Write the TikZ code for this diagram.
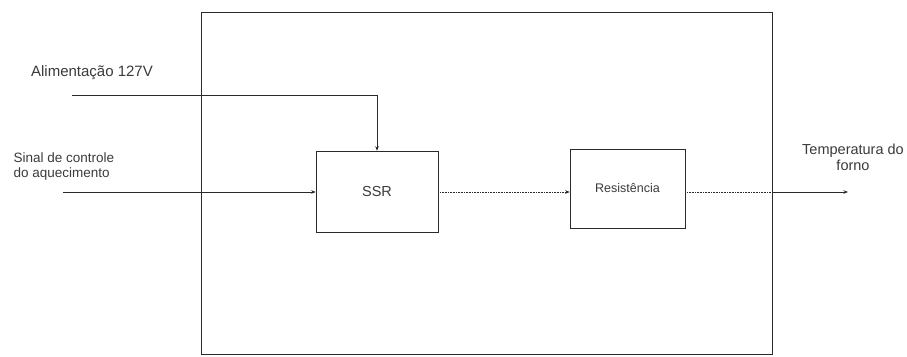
\documentclass[tikz,border=0pt]{standalone}
\usepackage{fontspec}
\setmainfont{Liberation Sans}
\usepackage{xcolor}
\usetikzlibrary{arrows.meta, positioning, calc}
\definecolor{inkgray}{HTML}{2A2A2A}
\definecolor{labelgray}{HTML}{3A3A3A}
\tikzset{
  arr/.style={-{Stealth[length=4.5pt, width=3.5pt]}, line width=0.6pt, inkgray},
  darr/.style={-{Stealth[length=4.5pt, width=3.5pt]}, line width=0.6pt, inkgray, densely dotted},
  blockbox/.style={rectangle, draw=inkgray, line width=0.6pt, align=center, text=labelgray},
  lbl/.style={font=\fontsize{13.5}{15}\selectfont, text=labelgray},
}
\begin{document}
\begin{tikzpicture}[x=1pt, y=-1pt]
  \useasboundingbox (0,0) rectangle (907,356);

  % Plant boundary
  \node[draw=inkgray, line width=0.6pt, minimum width=571pt, minimum height=342pt, inner sep=0pt] (plant) at (486.5,183) {};

  % Blocks
  \node[blockbox, minimum width=122pt, minimum height=81pt, font=\fontsize{14.5}{16}\selectfont] (ssr) at (377,191.5) {SSR};
  \node[blockbox, minimum width=115pt, minimum height=79pt, font=\fontsize{12.5}{15}\selectfont] (res) at (627.5,188.5) {Resistência};

  % Inputs
  \node[lbl, font=\fontsize{15}{17}\selectfont] (alim) at (92,73) {Alimentação 127V};
  \node[lbl, align=left, anchor=west] (sinal) at (10,167) {Sinal de controle\\do aquecimento};
  \coordinate (alimin) at (72,95);
  \coordinate (sinalin) at (63,192);
  \draw[arr] (alimin) -| (ssr.north);
  \draw[arr] (sinalin) -- (sinalin -| ssr.west);

  % Output
  \node[lbl, align=center, font=\fontsize{14.5}{16}\selectfont] (temp) at (853,157) {Temperatura do\\forno};
  \coordinate (tempout) at (848,192);
  \draw[darr] (ssr.east |- 0,192) -- (res.west |- 0,192);
  \draw[line width=0.6pt, inkgray, densely dotted] (res.east |- 0,192) -- (plant.east |- 0,192);
  \draw[arr] (plant.east |- 0,192) -- (tempout);
\end{tikzpicture}
\end{document}
